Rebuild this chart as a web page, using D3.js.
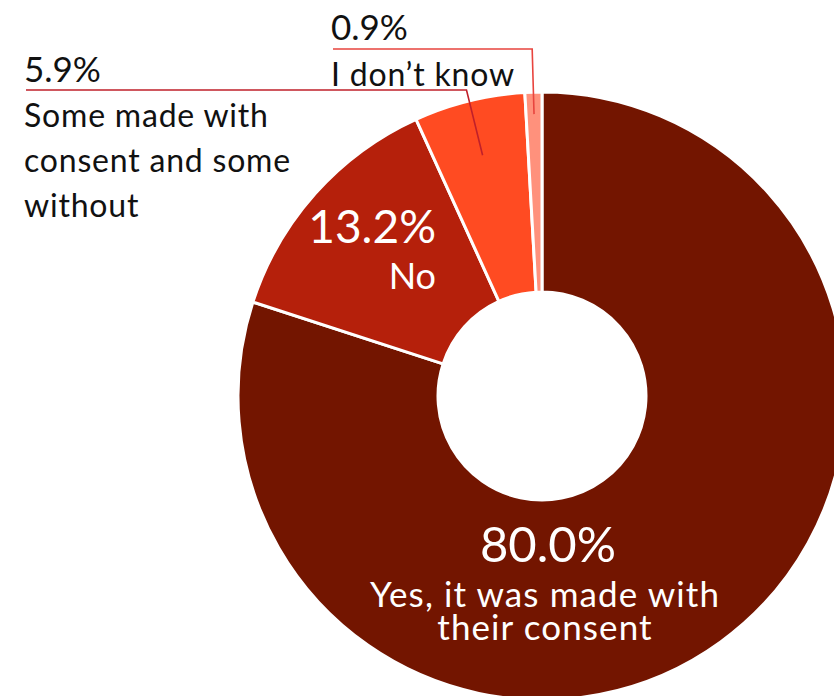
<!DOCTYPE html>
<html>
<head>
<meta charset="utf-8">
<script src="https://cdn.jsdelivr.net/npm/d3@7"></script>
<style>
  html, body { margin: 0; padding: 0; background: #fff; }
  svg { display: block; }
  text { font-family: Lato, "Open Sans", sans-serif; }
</style>
</head>
<body>
<svg id="chart" width="834" height="696"></svg>
<script>
// Survey answers and their shares (%)
const categories = [
  "Yes, it was made with their consent",
  "No",
  "Some made with consent and some without",
  "I don’t know"
];
const values = [80.0, 13.2, 5.9, 0.9];
const colors = ["#731500", "#b5200b", "#ff4b22", "#ff917c"];

const svg = d3.select("#chart");
const cx = 542, cy = 396;
const outerR = 304, innerR = 104;

const pie = d3.pie().sort(null).value(d => d.value);
const arcs = pie(values.map((v, i) => ({ value: v, label: categories[i], color: colors[i] })));
const arc = d3.arc().innerRadius(innerR).outerRadius(outerR);

const g = svg.append("g").attr("transform", `translate(${cx},${cy})`);

g.selectAll("path.slice")
  .data(arcs)
  .join("path")
  .attr("class", "slice")
  .attr("d", arc)
  .attr("fill", d => d.data.color)
  .attr("stroke", "#fff")
  .attr("stroke-width", 3)
  .attr("stroke-linejoin", "round");

const fmt = v => d3.format(".1f")(v) + "%";
const mid = d => (d.startAngle + d.endAngle) / 2;
const polar = (a, r) => [Math.sin(a) * r, -Math.cos(a) * r];

// Labels inside the two large slices
const inner = svg.append("g").attr("fill", "#fff");
inner.append("text").attr("x", 548).attr("y", 562).attr("text-anchor", "middle")
  .attr("font-size", 49).text(fmt(arcs[0].data.value));
const yes = inner.append("text").attr("y", 607).attr("text-anchor", "middle")
  .attr("font-size", 35).attr("letter-spacing", 1.1);
["Yes, it was made with", "their consent"].forEach((t, i) => {
  yes.append("tspan").attr("x", 545).attr("dy", i ? 33 : 0).text(t);
});

inner.append("text").attr("x", 436).attr("y", 243).attr("text-anchor", "end")
  .attr("font-size", 46).text(fmt(arcs[1].data.value));
inner.append("text").attr("x", 436).attr("y", 289).attr("text-anchor", "end")
  .attr("font-size", 36).text("No");

// Outside labels with elbow leader lines for the two small slices
const callouts = [
  { d: arcs[2], rStart: 248, lineY: 90, textX: 26, lines: ["Some made with", "consent and some", "without"], stroke: "#c0202a", valueY: 82 },
  { d: arcs[3], rStart: 282, lineY: 49, textX: 333, lines: ["I don’t know"], stroke: "#e8443e", valueY: 40 }
];

callouts.forEach(c => {
  const a = mid(c.d);
  const p0 = polar(a, c.rStart);
  const rEnd = (c.lineY - cy) / -Math.cos(a);
  const p1 = polar(a, rEnd);
  const pts = [[cx + p0[0], cy + p0[1]], [cx + p1[0], cy + p1[1]], [c.textX, c.lineY]];
  svg.append("path")
    .attr("d", d3.line()(pts))
    .attr("fill", "none")
    .attr("stroke", c.stroke)
    .attr("stroke-width", 1.6);
  svg.append("text").attr("x", c.textX - 2).attr("y", c.valueY)
    .attr("font-size", 35).attr("fill", "#111").text(fmt(c.d.data.value));
  c.lines.forEach((t, i) => {
    svg.append("text").attr("x", c.textX - 2).attr("y", c.lineY + 37 + i * 45)
      .attr("font-size", 32).attr("letter-spacing", 0.8).attr("fill", "#111").text(t);
  });
});
</script>
</body>
</html>
